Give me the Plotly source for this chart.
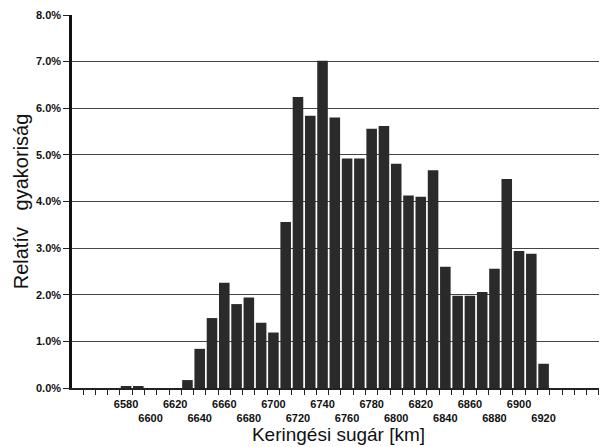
import plotly.graph_objects as go

# Bin centres (km) and relative frequencies (percent)
bins = [6580, 6590, 6600, 6610, 6620, 6630, 6640, 6650, 6660, 6670, 6680, 6690,
        6700, 6710, 6720, 6730, 6740, 6750, 6760, 6770, 6780, 6790, 6800, 6810,
        6820, 6830, 6840, 6850, 6860, 6870, 6880, 6890, 6900, 6910, 6920]
freq_pct = [0.03, 0.03, 0.0, 0.0, 0.0, 0.17, 0.84, 1.50, 2.26, 1.80, 1.94, 1.40,
            1.19, 3.56, 6.24, 5.84, 7.02, 5.80, 4.92, 4.92, 5.56, 5.62, 4.81, 4.13,
            4.10, 4.67, 2.60, 1.98, 1.98, 2.06, 2.56, 4.48, 2.94, 2.88, 0.52]

x_label_vals = list(range(6580, 6921, 20))
x_label_text = [str(v) if i % 2 == 0 else "<br>" + str(v) for i, v in enumerate(x_label_vals)]
y_tick_vals = [0, 0.01, 0.02, 0.03, 0.04, 0.05, 0.06, 0.07, 0.08]

freq = [v / 100 for v in freq_pct]

fig = go.Figure(go.Bar(
    x=bins, y=freq, width=8.6,
    marker=dict(color="#2a2a2a", line=dict(width=0)),
))

font_family = "Liberation Sans, Arial, sans-serif"

# page has an 8px body margin, so the figure is sized to fit the window
fig.update_layout(
    width=599, height=439,
    margin=dict(l=64, r=2, t=7, b=59, autoexpand=False),
    paper_bgcolor="white", plot_bgcolor="white",
    showlegend=False,
    font=dict(family=font_family, color="#111"),
)

fig.update_xaxes(
    range=[6536, 6970],
    tickvals=x_label_vals, ticktext=x_label_text,
    tickangle=0,
    ticks="outside", ticklen=0, tickcolor="black",
    ticklabelstandoff=5,
    tickfont=dict(size=11, family=font_family, weight="bold", color="#111"),
    minor=dict(ticks="outside", ticklen=5, tick0=6535, dtick=10, tickcolor="#222", showgrid=False),
    showline=True, linecolor="#222", linewidth=1.5,
    showgrid=False, zeroline=False, automargin=False,
    title=dict(text="Keringési sugár [km]", font=dict(size=19, family=font_family, color="#111"), standoff=4),
)

fig.update_yaxes(
    range=[0, 0.08],
    tickvals=y_tick_vals, tickformat=".1%",
    ticks="outside", ticklen=6, tickcolor="#222", tickwidth=1,
    tickfont=dict(size=11, family=font_family, weight="bold", color="#111"),
    showline=True, linecolor="#111", linewidth=2.5,
    showgrid=True, gridcolor="#444", gridwidth=1,
    zeroline=False, automargin=False,
    title=dict(text="Relatív   gyakoriság", font=dict(size=20, family=font_family, color="#111"), standoff=2),
)

fig.write_html("out.html")
